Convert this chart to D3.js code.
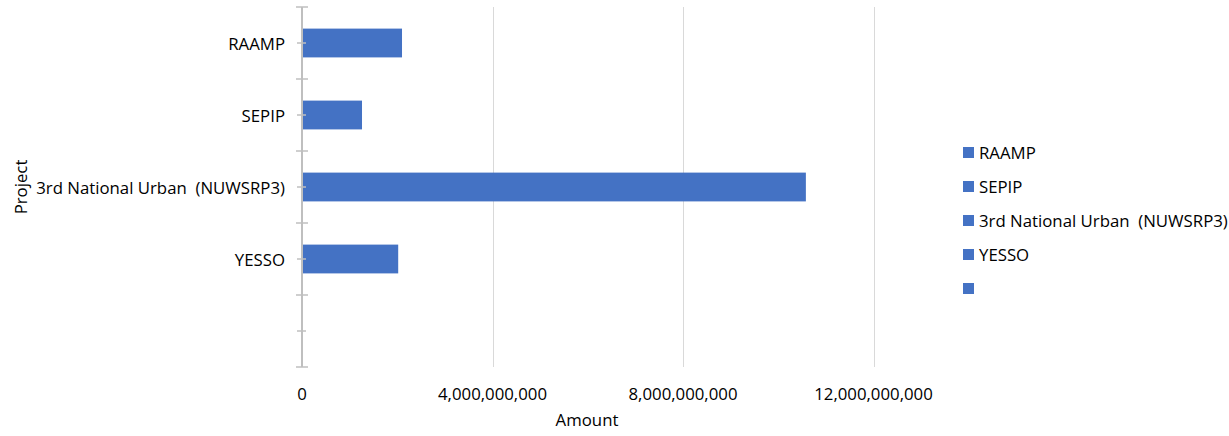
<!DOCTYPE html>
<html>
<head>
<meta charset="utf-8">
<script src="https://cdn.jsdelivr.net/npm/d3@7"></script>
<style>
  html, body { margin: 0; padding: 0; background: #fff; }
  svg text { font-family: "Open Sans", "Noto Sans", sans-serif; fill: #000; white-space: pre; }
</style>
</head>
<body>
<svg id="chart" width="1229" height="436"></svg>
<script>
const categories = ["RAAMP", "SEPIP", "3rd National Urban  (NUWSRP3)", "YESSO", ""];
const amounts = [2.10e9, 1.26e9, 10.58e9, 2.02e9, null];
const xTickValues = [0, 4e9, 8e9, 12e9];
const legendLabels = ["RAAMP", "SEPIP", "3rd National Urban  (NUWSRP3)", "YESSO", ""];

const barColor = "#4472C4";
const axisColor = "#BFBFBF";
const gridColor = "#D9D9D9";
const fontSize = 16.8;

const svg = d3.select("#chart");
const plot = { left: 302, right: 873.5, top: 7, bottom: 367 };

const x = d3.scaleLinear().domain([0, 12e9]).range([plot.left, plot.right]);
const y = d3.scaleBand().domain(categories).range([plot.top, plot.bottom])
  .paddingInner(0.6).paddingOuter(0.3);

// gridlines
svg.append("g").selectAll("line").data(xTickValues.filter(d => d > 0)).join("line")
  .attr("x1", d => Math.round(x(d)) + 0.5).attr("x2", d => Math.round(x(d)) + 0.5)
  .attr("y1", plot.top).attr("y2", plot.bottom)
  .attr("stroke", gridColor).attr("stroke-width", 1);

// bars
const rows = categories.map((c, i) => ({ cat: c, val: amounts[i] })).filter(d => d.val != null);
svg.append("g").selectAll("rect").data(rows).join("rect")
  .attr("x", x(0)).attr("y", d => y(d.cat))
  .attr("width", d => x(d.val) - x(0)).attr("height", y.bandwidth())
  .attr("fill", barColor);

// y axis line
svg.append("line").attr("x1", plot.left).attr("x2", plot.left)
  .attr("y1", plot.top).attr("y2", plot.bottom)
  .attr("stroke", axisColor).attr("stroke-width", 2);

// major ticks at band boundaries
const step = y.step();
const boundaries = d3.range(categories.length + 1).map(i => plot.top + i * step);
svg.append("g").selectAll("line").data(boundaries).join("line")
  .attr("x1", plot.left - 6).attr("x2", plot.left + 6)
  .attr("y1", d => d).attr("y2", d => d)
  .attr("stroke", axisColor).attr("stroke-width", 1.5);
// minor ticks at category centers
svg.append("g").selectAll("line").data(categories).join("line")
  .attr("x1", plot.left - 5).attr("x2", plot.left + 4)
  .attr("y1", d => y(d) + y.bandwidth() / 2).attr("y2", d => y(d) + y.bandwidth() / 2)
  .attr("stroke", axisColor).attr("stroke-width", 1.5);

// y labels
svg.append("g").selectAll("text").data(categories).join("text")
  .attr("x", 285).attr("y", d => y(d) + y.bandwidth() / 2)
  .attr("text-anchor", "end").attr("dominant-baseline", "central")
  .attr("font-size", fontSize).text(d => d);

// x tick labels
const fmt = d3.format(",");
svg.append("g").selectAll("text").data(xTickValues).join("text")
  .attr("x", d => x(d)).attr("y", 393)
  .attr("text-anchor", "middle").attr("dominant-baseline", "central")
  .attr("font-size", fontSize).text(d => fmt(d));

// axis titles
svg.append("text").attr("x", 587).attr("y", 419)
  .attr("text-anchor", "middle").attr("dominant-baseline", "central")
  .attr("font-size", fontSize).text("Amount");
svg.append("text").attr("transform", "translate(20,187) rotate(-90)")
  .attr("text-anchor", "middle").attr("dominant-baseline", "central")
  .attr("font-size", fontSize).text("Project");

// legend
const legend = svg.append("g").selectAll("g").data(legendLabels).join("g")
  .attr("transform", (d, i) => `translate(963, ${152 + i * 34})`);
legend.append("rect").attr("x", 0).attr("y", -5).attr("width", 11).attr("height", 11).attr("fill", barColor);
legend.append("text").attr("x", 16).attr("y", 0).attr("dominant-baseline", "central")
  .attr("font-size", fontSize).text(d => d);
</script>
</body>
</html>
